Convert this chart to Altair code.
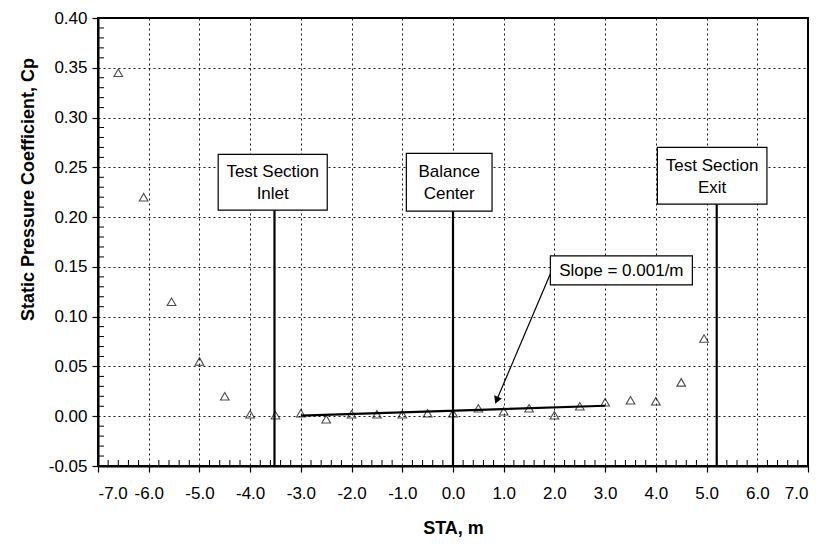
import altair as alt
import pandas as pd

# ---- data ----
sta = [-6.6, -6.1, -5.55, -5.0, -4.5, -4.0, -3.5, -3.0, -2.5, -2.0, -1.5, -1.0,
       -0.5, 0.0, 0.5, 1.0, 1.5, 2.0, 2.5, 3.0, 3.5, 4.0, 4.5, 4.95]
cp = [0.345, 0.220, 0.115, 0.055, 0.020, 0.002, 0.001, 0.003, -0.003, 0.002,
      0.002, 0.002, 0.003, 0.003, 0.008, 0.005, 0.008, 0.001, 0.010, 0.014,
      0.016, 0.015, 0.034, 0.078]

fit_x = [-3.0, 3.0]
fit_y = [0.0005, 0.0105]

# vertical markers: x, top (box bottom)
marker_x = [-3.52, 0.0, 5.2]
marker_top = [0.207, 0.206, 0.213]

# label boxes
box_line1 = ["Test Section", "Balance", "Test Section", "Slope = 0.001/m"]
box_line2 = ["Inlet", "Center", "Exit", ""]
box_x1 = [-4.63, -0.92, 4.03, 1.92]
box_x2 = [-2.48, 0.77, 6.19, 4.72]
box_y1 = [0.207, 0.206, 0.213, 0.132]
box_y2 = [0.263, 0.264, 0.270, 0.161]

# arrow from slope label to fit line
arrow_x = [1.92, 0.86]
arrow_y = [0.143, 0.016]
arrow_tip_x = [0.86]
arrow_tip_y = [0.016]

x_ticks = [-7, -6, -5, -4, -3, -2, -1, 0, 1, 2, 3, 4, 5, 6, 7]
y_ticks = [-0.05, 0.0, 0.05, 0.10, 0.15, 0.20, 0.25, 0.30, 0.35, 0.40]
x_minor = [round(-7 + 0.2 * i, 2) for i in range(71) if i % 5 != 0]
y_minor = [round(-0.05 + 0.01 * i, 3) for i in range(46) if i % 5 != 0]

W, H = 710, 448
FONT = "Liberation Sans"

xs = alt.Scale(domain=[-7, 7], nice=False, zero=False)
ys = alt.Scale(domain=[-0.05, 0.40], nice=False, zero=False)

pts = pd.DataFrame({"STA": sta, "Cp": cp})
fit = pd.DataFrame({"x": fit_x, "y": fit_y})
markers = pd.DataFrame({"x": marker_x, "top": marker_top, "bottom": [-0.05] * 3})
boxes = pd.DataFrame({"l1": box_line1, "l2": box_line2, "x1": box_x1, "x2": box_x2,
                      "y1": box_y1, "y2": box_y2})
boxes["xc"] = (boxes.x1 + boxes.x2) / 2
boxes["yc"] = (boxes.y1 + boxes.y2) / 2
two = boxes[boxes.l2 != ""]
one = boxes[boxes.l2 == ""]
arrow = pd.DataFrame({"x": arrow_x, "y": arrow_y})
tip = pd.DataFrame({"x": arrow_tip_x, "y": arrow_tip_y})

xlab = "(datum.value < 0 ? '-' : '') + format(abs(datum.value), '.1f')"
ylab = "(datum.value < 0 ? '-' : '') + format(abs(datum.value), '.2f')"

x_axis = alt.Axis(values=x_ticks, labelExpr=xlab, title="STA, m", grid=True,
                  labelOverlap=False)
y_axis = alt.Axis(values=y_ticks, labelExpr=ylab,
                  title="Static Pressure Coefficient, Cp", grid=True,
                  labelOverlap=False,
                  titleX=-70, titleY=171, titleAngle=270, titleAlign="center",
                  titleBaseline="middle")

points = alt.Chart(pts).mark_point(
    shape="triangle-up", filled=False, color="black", size=75, strokeWidth=1.1
).encode(
    x=alt.X("STA:Q", scale=xs, axis=x_axis),
    y=alt.Y("Cp:Q", scale=ys, axis=y_axis),
)

fit_line = alt.Chart(fit).mark_line(color="black", strokeWidth=2.2).encode(
    x=alt.X("x:Q", scale=xs), y=alt.Y("y:Q", scale=ys)
)

vlines = alt.Chart(markers).mark_rule(color="black", strokeWidth=2.2).encode(
    x=alt.X("x:Q", scale=xs), y=alt.Y("top:Q", scale=ys), y2="bottom:Q"
)

rects = alt.Chart(boxes).mark_rect(fill="white", stroke="black", strokeWidth=1.2).encode(
    x=alt.X("x1:Q", scale=xs), x2="x2:Q", y=alt.Y("y1:Q", scale=ys), y2="y2:Q"
)

tstyle = dict(font=FONT, fontSize=17, color="black", align="center", baseline="middle")
text1 = alt.Chart(two).mark_text(dy=-10, **tstyle).encode(
    x=alt.X("xc:Q", scale=xs), y=alt.Y("yc:Q", scale=ys), text="l1:N"
)
text2 = alt.Chart(two).mark_text(dy=12, **tstyle).encode(
    x=alt.X("xc:Q", scale=xs), y=alt.Y("yc:Q", scale=ys), text="l2:N"
)
text0 = alt.Chart(one).mark_text(dy=1, **tstyle).encode(
    x=alt.X("xc:Q", scale=xs), y=alt.Y("yc:Q", scale=ys), text="l1:N"
)

arrow_line = alt.Chart(arrow).mark_line(color="black", strokeWidth=1.2).encode(
    x=alt.X("x:Q", scale=xs), y=alt.Y("y:Q", scale=ys)
)

arrow_head = alt.Chart(tip).mark_point(
    shape="triangle-up", filled=True, color="black", size=70, angle=203, opacity=1
).encode(x=alt.X("x:Q", scale=xs), y=alt.Y("y:Q", scale=ys))

xminor = alt.Chart(pd.DataFrame({"x": x_minor})).mark_rule(color="black", strokeWidth=1).encode(
    x=alt.X("x:Q", scale=xs), y=alt.value(H), y2=alt.value(H - 6)
)
yminor = alt.Chart(pd.DataFrame({"y": y_minor})).mark_rule(color="black", strokeWidth=1).encode(
    y=alt.Y("y:Q", scale=ys), x=alt.value(0), x2=alt.value(6)
)

chart = alt.layer(
    points, xminor, yminor, fit_line, vlines, arrow_line, arrow_head, rects,
    text1, text2, text0
).properties(
    width=W, height=H,
    background="white",
    autosize=alt.AutoSizeParams(type="none"),
    padding={"left": 98, "top": 18, "right": 19, "bottom": 84},
).configure_view(
    stroke="black", strokeWidth=2
).configure_axis(
    labelFont=FONT, labelFontSize=17, labelColor="black",
    titleFont=FONT, titleFontSize=18, titleFontWeight="bold", titleColor="black",
    domainColor="black", domainWidth=2, tickColor="black", tickSize=6, tickWidth=1.2,
    gridColor="black", gridDash=[2, 3], gridWidth=1, gridOpacity=0.9,
).configure_axisX(
    labelPadding=13, titlePadding=18
).configure_axisY(
    labelPadding=5
)

chart.save("out.html", embed_options={"renderer": "svg", "actions": False})
